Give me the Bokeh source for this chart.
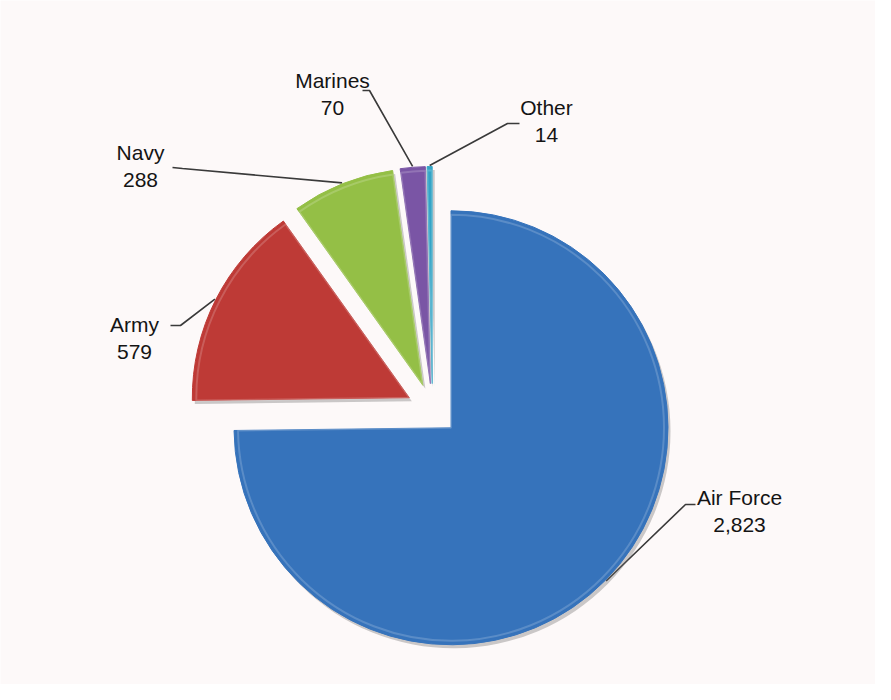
import numpy as np
from bokeh.plotting import figure
from bokeh.models import Range1d, ColumnDataSource
from bokeh.core.properties import value
from bokeh.embed import file_html
from bokeh.resources import INLINE

# ---- data ----
categories = ["Air Force", "Army", "Navy", "Marines", "Other"]
counts = [2823, 579, 288, 70, 14]
colors = ["#3673bb", "#be3a36", "#94bf46", "#7a55a5", "#34a4c6"]

# ---- layout (pixel-like data coordinates, y up) ----
W, H = 875, 684
CX, CY = 440.0, 700 - 417.0      # common centre
EXPLODE = 26.0
R = 217.0

vals = np.array(counts, dtype=float)
frac = vals / vals.sum()
cum = np.concatenate([[0.0], np.cumsum(frac)])
start = np.pi / 2 - 2 * np.pi * cum[:-1]
end = np.pi / 2 - 2 * np.pi * cum[1:]
mid = (start + end) / 2
cx = CX + EXPLODE * np.cos(mid)
cy = CY + EXPLODE * np.sin(mid)

src = ColumnDataSource(dict(cat=categories, x=cx, y=cy, start=start, end=end,
                            color=colors,
                            sx=cx + 2.5, sy=cy - 3.5))

p = figure(width=W, height=H, x_range=Range1d(8, 8 + W), y_range=Range1d(8, 8 + H),
           output_backend="svg", toolbar_location=None, min_border=0,
           x_axis_location=None, y_axis_location=None,
           background_fill_color="#fdf9f9", border_fill_color="#fdf9f9")
p.grid.visible = False
p.outline_line_color = None

# leader lines: label anchor -> elbow -> slice edge at mid angle
label_anchor = [(703, 512), (178, 333), (180, 175), (370, 98), (527, 131)]
elbow = [(693, 512), (188, 333), (190, 176), (377, 98), (515, 131)]
xs, ys = [], []
for i in range(len(categories)):
    ex = cx[i] + (R + 1) * np.cos(mid[i])
    ey = cy[i] + (R + 1) * np.sin(mid[i])
    xs.append([label_anchor[i][0], elbow[i][0], ex])
    ys.append([700 - label_anchor[i][1], 700 - elbow[i][1], ey])
p.multi_line(xs, ys, line_color="#3a3a3a", line_width=1.6)

# shadows
p.wedge(x="sx", y="sy", radius=R, start_angle="start", end_angle="end",
        direction="clock", fill_color="#6b6b6b", fill_alpha=0.35, line_color=None,
        source=src)
# slices
p.wedge(x="x", y="y", radius=R, start_angle="start", end_angle="end",
        direction="clock", fill_color="color", line_color="color", line_width=1,
        source=src)
# inner highlight (bevel-like)
p.wedge(x="x", y="y", radius=R - 4, start_angle="start", end_angle="end",
        direction="clock", fill_color=None, line_color="white", line_alpha=0.18,
        line_width=2, source=src)

# labels
name_pos = [(747, 505), (142, 332), (148, 160), (340, 88), (554, 115)]
lsrc = ColumnDataSource(dict(
    x=[pp[0] for pp in name_pos],
    y=[700 - pp[1] for pp in name_pos],
    y2=[700 - pp[1] - 27 for pp in name_pos],
    name=categories,
    val=[f"{v:,}" for v in counts]))
for col, ycol in (("name", "y"), ("val", "y2")):
    p.text(x="x", y=ycol, text=col, source=lsrc, text_align="center",
           text_baseline="alphabetic", text_font=value("Liberation Sans"),
           text_font_size="21px", text_color="#141414")

open("out.html", "w").write(file_html(p, INLINE))
